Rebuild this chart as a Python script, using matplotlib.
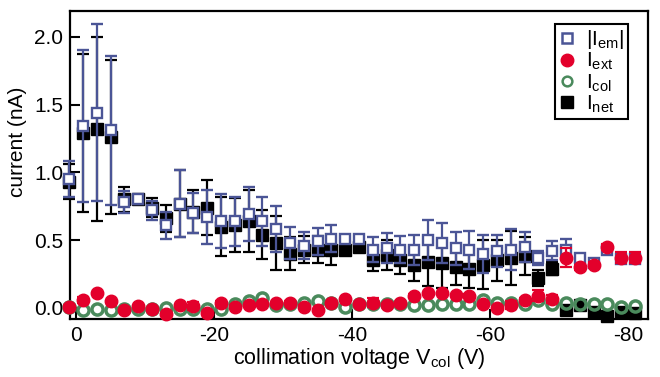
import matplotlib
matplotlib.use("Agg")
import matplotlib.pyplot as plt

plt.rcParams['font.family'] = ['Liberation Sans', 'DejaVu Sans']
plt.rcParams['mathtext.fontset'] = 'custom'
plt.rcParams['mathtext.rm'] = 'Liberation Sans'
plt.rcParams['mathtext.it'] = 'Liberation Sans'

# collimation voltage (V)
v_col = [1, -1, -3, -5, -7, -9, -11, -13, -15, -17, -19, -21, -23, -25, -27, -29, -31,
         -33, -35, -37, -39, -41, -43, -45, -47, -49, -51, -53, -55, -57, -59, -61,
         -63, -65, -67, -69, -71, -73, -75, -77, -79, -81]

i_em = [0.95, 1.34, 1.44, 1.31, 0.78, 0.80, 0.72, 0.61, 0.77, 0.70, 0.67, 0.64, 0.64,
        0.69, 0.64, 0.58, 0.48, 0.46, 0.49, 0.51, 0.51, 0.51, 0.43, 0.44, 0.43, 0.43,
        0.50, 0.48, 0.44, 0.43, 0.40, 0.42, 0.43, 0.45, 0.37, 0.42, 0.43, 0.37, 0.33,
        0.43, 0.36, 0.36]
i_em_err = [0.13, 0.56, 0.65, 0.55, 0.08, 0.03, 0.07, 0.10, 0.25, 0.15, 0.20, 0.20, 0.18,
            0.20, 0.18, 0.17, 0.12, 0.10, 0.10, 0.10, 0.03, 0.03, 0.09, 0.11, 0.10, 0.11,
            0.15, 0.15, 0.12, 0.14, 0.14, 0.12, 0.15, 0.11, 0.05, 0.07, 0.08, 0.03, 0.02,
            0.02, 0.03, 0.03]

i_net = [0.93, 1.29, 1.32, 1.26, 0.80, 0.80, 0.74, 0.66, 0.77, 0.71, 0.74, 0.60, 0.61,
         0.64, 0.54, 0.48, 0.40, 0.43, 0.43, 0.43, 0.43, 0.45, 0.35, 0.39, 0.35, 0.32,
         0.34, 0.33, 0.30, 0.29, 0.32, 0.35, 0.37, 0.38, 0.22, 0.29, -0.015, 0.02, -0.03,
         -0.06, -0.03, -0.04]
i_net_err = [0.13, 0.58, 0.68, 0.57, 0.09, 0.03, 0.07, 0.10, 0.25, 0.16, 0.20, 0.22, 0.20,
             0.23, 0.18, 0.20, 0.12, 0.10, 0.10, 0.11, 0.03, 0.03, 0.08, 0.11, 0.10, 0.12,
             0.18, 0.18, 0.13, 0.14, 0.18, 0.15, 0.20, 0.14, 0.06, 0.05, 0.02, 0.02, 0.02,
             0.02, 0.02, 0.02]

i_ext = [0.01, 0.06, 0.11, 0.05, -0.015, 0.015, -0.01, -0.045, 0.02, 0.015, -0.04, 0.04,
         0.01, 0.02, 0.03, 0.035, 0.04, 0.01, -0.015, 0.035, 0.065, 0.03, 0.04, 0.02, 0.035,
         0.09, 0.11, 0.11, 0.095, 0.09, 0.03, 0.0, 0.02, 0.06, 0.09, 0.065, 0.37, 0.30,
         0.32, 0.45, 0.37, 0.37]
i_ext_err = [0.01, 0.02, 0.01, 0.01, 0.01, 0.01, 0.01, 0.01, 0.01, 0.03, 0.01, 0.01, 0.01,
             0.01, 0.01, 0.01, 0.01, 0.01, 0.01, 0.01, 0.01, 0.01, 0.03, 0.01, 0.01, 0.01,
             0.01, 0.01, 0.01, 0.01, 0.01, 0.01, 0.03, 0.01, 0.04, 0.03, 0.07, 0.02, 0.02,
             0.02, 0.04, 0.04]

i_col = [0.01, -0.015, -0.01, -0.015, -0.01, -0.01, -0.01, 0.0, -0.01, -0.01, -0.01, -0.01,
         0.03, 0.05, 0.07, 0.02, 0.03, 0.04, 0.05, 0.04, 0.01, 0.03, 0.03, 0.03, 0.03, 0.02,
         0.025, 0.03, 0.03, 0.03, 0.055, 0.035, 0.04, 0.03, 0.06, 0.03, 0.04, 0.03, 0.03,
         0.03, 0.01, 0.015]

blue = '#4b5596'
red = '#e3002b'
green = '#4a8a5c'

fig = plt.figure(figsize=(6.6, 3.77), dpi=100)
ax = fig.add_axes([0.106, 0.154, 0.876, 0.817])

# net current
ax.errorbar(v_col, i_net, yerr=i_net_err, fmt='s', color='black', ms=8,
            ecolor='black', elinewidth=1.6, capsize=4.5, capthick=1.6, zorder=2,
            clip_on=False)
# emission current
ax.errorbar(v_col, i_em, yerr=i_em_err, fmt='s', color=blue, mfc='white', mec=blue,
            mew=1.7, ms=7.5, ecolor=blue, elinewidth=1.6, capsize=4.5, capthick=1.6, zorder=3,
            clip_on=False)
# collector current
ax.plot(v_col, i_col, 'o', color=green, mfc='none', mec=green, mew=2.5, ms=8, zorder=4,
        clip_on=False)
# extractor current
ax.errorbar(v_col, i_ext, yerr=i_ext_err, fmt='o', color=red, ms=9,
            ecolor=red, elinewidth=1.6, capsize=4.5, capthick=1.6, zorder=5,
            clip_on=False)

# legend handles
h_em, = ax.plot([], [], 's', color=blue, mfc='white', mew=1.8, ms=7)
h_ext, = ax.plot([], [], 'o', color=red, ms=9)
h_col, = ax.plot([], [], 'o', color=green, mfc='none', mew=1.8, ms=7)
h_net, = ax.plot([], [], 's', color='black', ms=8)
leg = ax.legend([h_em, h_ext, h_col, h_net],
                ['|I$_\\mathrm{em}$|', 'I$_\\mathrm{ext}$', 'I$_\\mathrm{col}$', 'I$_\\mathrm{net}$'],
                loc='upper right', bbox_to_anchor=(0.965, 0.958), fontsize=15,
                handlelength=0.8, handletextpad=0.5, labelspacing=0.0,
                borderpad=0.2, borderaxespad=0, fancybox=False, framealpha=1,
                edgecolor='black')
leg.get_frame().set_linewidth(1.5)
leg.set_zorder(10)

ax.set_xlim(0.9, -82.9)
ax.set_ylim(-0.081, 2.19)
ax.set_xticks([0, -20, -40, -60, -80])
ax.set_xticklabels(['0', '-20', '-40', '-60', '-80'])
ax.set_yticks([0.0, 0.5, 1.0, 1.5, 2.0])
ax.set_yticklabels(['0.0', '0.5', '1.0', '1.5', '2.0'])
ax.tick_params(direction='in', length=7, width=1.5, labelsize=15, pad=5)
for s in ax.spines.values():
    s.set_linewidth(1.6)

ax.set_xlabel('collimation voltage V$_\\mathrm{col}$ (V)', fontsize=15.5, labelpad=1)
ax.set_ylabel('current (nA)', fontsize=15)
ax.yaxis.set_label_coords(-0.075, 0.575)

fig.savefig('out.png', dpi=100)
